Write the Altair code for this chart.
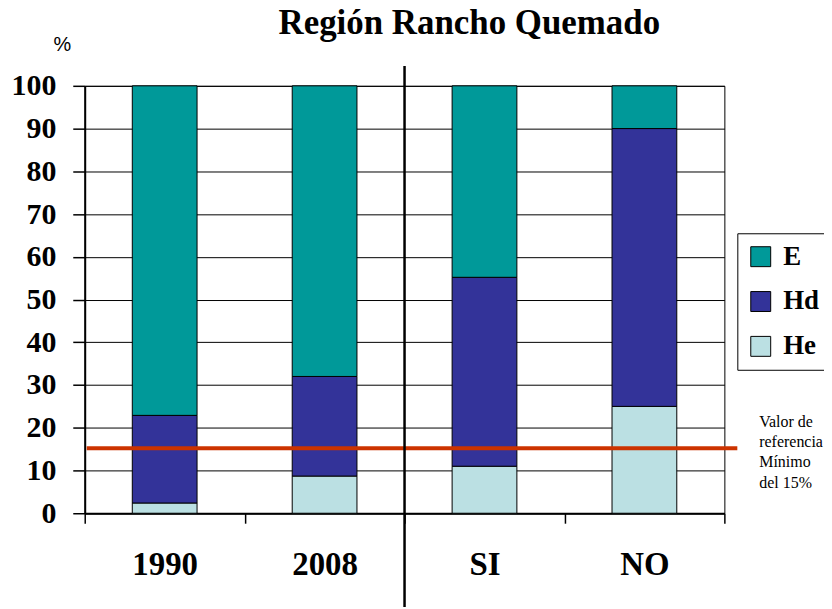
import altair as alt
import pandas as pd

categories = ["1990", "2008", "SI", "NO"]
series = ["E", "Hd", "He"]
colors = ["#009999", "#333399", "#BBE0E3"]
he = [2.4, 8.7, 11.0, 25.0]
hd = [20.5, 23.3, 44.2, 65.0]
e = [77.1, 68.0, 44.8, 10.0]
reference_value = [15.2]
note_lines = ["Valor de", "referencia", "Mínimo", "del 15%"]

rows = []
for i, c in enumerate(categories):
    rows.append({"cat": c, "serie": "He", "value": he[i], "ord": 0})
    rows.append({"cat": c, "serie": "Hd", "value": hd[i], "ord": 1})
    rows.append({"cat": c, "serie": "E", "value": e[i], "ord": 2})
df = pd.DataFrame(rows)
ref_df = pd.DataFrame({"ref": reference_value})

SERIF = "Liberation Serif"

bars = alt.Chart(df).mark_bar(size=65, stroke="black", strokeWidth=1).encode(
    x=alt.X(
        "cat:N",
        sort=categories,
        scale=alt.Scale(paddingInner=0, paddingOuter=0),
        axis=alt.Axis(
            title=None,
            labelAngle=0,
            labelFont=SERIF,
            labelFontSize=33,
            labelFontWeight="bold",
            labelColor="black",
            labelPadding=25,
            tickBand="extent",
            tickSize=10,
            tickColor="black",
            tickWidth=1.5,
            domainColor="black",
            domainWidth=2,
            grid=False,
        ),
    ),
    y=alt.Y(
        "value:Q",
        stack="zero",
        scale=alt.Scale(domain=[0, 100], nice=False),
        axis=alt.Axis(
            title="%",
            titleAngle=0,
            titleX=-23,
            titleY=-41,
            titleAlign="center",
            titleBaseline="middle",
            titleFont="Liberation Sans",
            titleFontSize=20,
            titleFontWeight="normal",
            titleColor="black",
            values=list(range(0, 101, 10)),
            labelFont=SERIF,
            labelFontSize=30,
            labelFontWeight="bold",
            labelColor="black",
            labelPadding=17,
            tickSize=12,
            tickColor="black",
            tickWidth=1.5,
            domainColor="black",
            domainWidth=2,
            grid=True,
            gridColor="black",
            gridWidth=1,
            gridOpacity=1,
        ),
    ),
    color=alt.Color(
        "serie:N",
        scale=alt.Scale(domain=series, range=colors),
        legend=alt.Legend(
            title=None,
            orient="none",
            legendX=655,
            legendY=148,
            strokeColor="black",
            fillColor="white",
            padding=10,
            symbolType="square",
            symbolSize=400,
            symbolStrokeColor="black",
            symbolStrokeWidth=1,
            symbolOpacity=1,
            labelFont=SERIF,
            labelFontSize=27,
            labelFontWeight="bold",
            labelColor="black",
            labelOffset=9,
            rowPadding=17,
        ),
    ),
    order=alt.Order("ord:Q", sort="ascending"),
)

ref_rule = alt.Chart(ref_df).mark_rule(color="#CC3300", strokeWidth=4).encode(
    y="ref:Q", x=alt.value(2), x2=alt.value(655)
)

divider = alt.Chart(ref_df).mark_rule(color="black", strokeWidth=2.5).encode(
    x=alt.value(321), y=alt.value(-20), y2=alt.value(523)
)

note = alt.Chart(ref_df).mark_text(
    align="left", baseline="middle", font=SERIF, fontSize=16, lineHeight=20.5, color="black"
).encode(x=alt.value(677), y=alt.value(337), text=alt.value(note_lines))

chart = (
    alt.layer(bars, ref_rule, divider, note)
    .properties(
        width=642,
        height=429,
        title=alt.TitleParams(
            "Región Rancho Quemado",
            font=SERIF,
            fontSize=35,
            fontWeight="bold",
            color="black",
            anchor="middle",
            dx=65,
            offset=-6,
        ),
        autosize=alt.AutoSizeParams(type="none"),
        padding={"left": 77, "top": 77, "right": 100, "bottom": 93},
    )
    .configure_view(stroke="black", strokeWidth=1)
)

chart.save("out.html", embed_options={"renderer": "svg", "actions": False})
